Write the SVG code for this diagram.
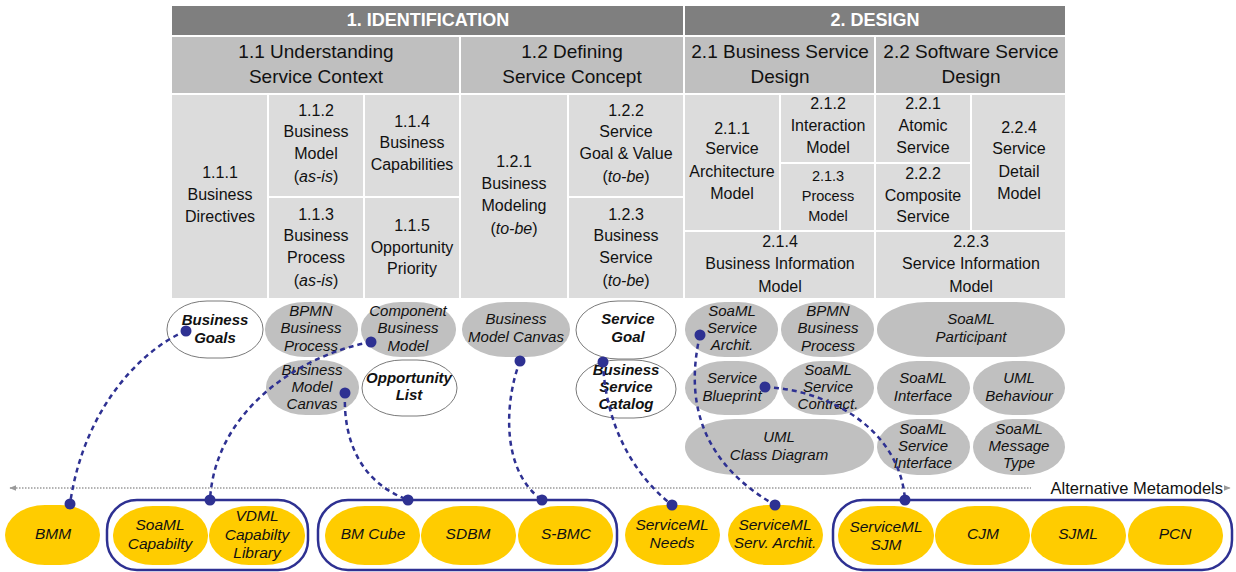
<svg xmlns="http://www.w3.org/2000/svg" width="1236" height="572" viewBox="0 0 1236 572">
<style>
.bg{fill:#fff}
.h1{fill:#7f7f7f}
.h2{fill:#bfbfbf}
.c{fill:#dcdcdc}
.t{font-family:"Liberation Sans",Arial,sans-serif;text-anchor:middle;fill:#111}
.th1{font-size:18px;font-weight:bold;fill:#fff}
.th2{font-size:19px}
.tc{font-size:16px}
.ts{font-size:14.5px}
.pi{font-size:15px;font-style:italic}
.pb{font-size:15px;font-style:italic;font-weight:bold}
.bi{font-size:15.5px;font-style:italic}
.pg{fill:#c0c0c0}
.pw{fill:#fff;stroke:#7a7a7a;stroke-width:1}
.py{fill:#ffcc00}
.grp{fill:none;stroke:#2e3192;stroke-width:2.5}
.con{fill:none;stroke:#2e3192;stroke-width:2.5;stroke-dasharray:5 4}
.dot{fill:#2e3192}
.axis{stroke:#9a9a9a;stroke-width:1.3;stroke-dasharray:1.5 1.5;fill:none}
</style>
<defs>
<marker id="ah" viewBox="0 0 10 10" refX="9" refY="5" markerWidth="7" markerHeight="7" orient="auto-start-reverse" markerUnits="userSpaceOnUse">
<path d="M0,1 L10,5 L0,9 z" fill="#9a9a9a"/>
</marker>
</defs>
<rect class="bg" x="0" y="0" width="1236" height="572"/>

<g id="phase-identification">
<rect class="h1" x="172" y="6" width="511" height="29"/>
<text class="t th1" x="428" y="26">1. IDENTIFICATION</text>
</g>
<g id="phase-design">
<rect class="h1" x="685" y="6" width="380" height="29"/>
<text class="t th1" x="875" y="26">2. DESIGN</text>
</g>

<g id="s1-1">
<rect class="h2" x="172" y="37" width="287" height="56"/>
<text class="t th2" x="316" y="58">1.1 Understanding</text>
<text class="t th2" x="316" y="83">Service Context</text>
</g>
<g id="s1-2">
<rect class="h2" x="461" y="37" width="222" height="56"/>
<text class="t th2" x="572" y="58">1.2 Defining</text>
<text class="t th2" x="572" y="83">Service Concept</text>
</g>
<g id="s2-1">
<rect class="h2" x="685" y="37" width="189" height="56"/>
<text class="t th2" x="780" y="58">2.1 Business Service</text>
<text class="t th2" x="780" y="83">Design</text>
</g>
<g id="s2-2">
<rect class="h2" x="876" y="37" width="189" height="56"/>
<text class="t th2" x="971" y="58">2.2 Software Service</text>
<text class="t th2" x="971" y="83">Design</text>
</g>

<g id="c1-1-1">
<rect class="c" x="172" y="95" width="95" height="203"/>
<text class="t tc" x="220" y="178">1.1.1</text>
<text class="t tc" x="220" y="200">Business</text>
<text class="t tc" x="220" y="222">Directives</text>
</g>
<g id="c1-1-2">
<rect class="c" x="269" y="95" width="94" height="101"/>
<text class="t tc" x="316" y="116">1.1.2</text>
<text class="t tc" x="316" y="137">Business</text>
<text class="t tc" x="316" y="159">Model</text>
<text class="t tc" x="316" y="182">(<tspan font-style="italic">as-is</tspan>)</text>
</g>
<g id="c1-1-3">
<rect class="c" x="269" y="198" width="94" height="100"/>
<text class="t tc" x="316" y="220">1.1.3</text>
<text class="t tc" x="316" y="241">Business</text>
<text class="t tc" x="316" y="263">Process</text>
<text class="t tc" x="316" y="286">(<tspan font-style="italic">as-is</tspan>)</text>
</g>
<g id="c1-1-4">
<rect class="c" x="365" y="95" width="94" height="101"/>
<text class="t tc" x="412" y="127">1.1.4</text>
<text class="t tc" x="412" y="148">Business</text>
<text class="t tc" x="412" y="170">Capabilities</text>
</g>
<g id="c1-1-5">
<rect class="c" x="365" y="198" width="94" height="100"/>
<text class="t tc" x="412" y="231">1.1.5</text>
<text class="t tc" x="412" y="253">Opportunity</text>
<text class="t tc" x="412" y="274">Priority</text>
</g>
<g id="c1-2-1">
<rect class="c" x="461" y="95" width="106" height="203"/>
<text class="t tc" x="514" y="167">1.2.1</text>
<text class="t tc" x="514" y="189">Business</text>
<text class="t tc" x="514" y="211">Modeling</text>
<text class="t tc" x="514" y="234">(<tspan font-style="italic">to-be</tspan>)</text>
</g>
<g id="c1-2-2">
<rect class="c" x="569" y="95" width="114" height="101"/>
<text class="t tc" x="626" y="116">1.2.2</text>
<text class="t tc" x="626" y="137">Service</text>
<text class="t tc" x="626" y="159">Goal &amp; Value</text>
<text class="t tc" x="626" y="182">(<tspan font-style="italic">to-be</tspan>)</text>
</g>
<g id="c1-2-3">
<rect class="c" x="569" y="198" width="114" height="100"/>
<text class="t tc" x="626" y="220">1.2.3</text>
<text class="t tc" x="626" y="241">Business</text>
<text class="t tc" x="626" y="263">Service</text>
<text class="t tc" x="626" y="286">(<tspan font-style="italic">to-be</tspan>)</text>
</g>
<g id="c2-1-1">
<rect class="c" x="685" y="95" width="94" height="135"/>
<text class="t tc" x="732" y="134">2.1.1</text>
<text class="t tc" x="732" y="154">Service</text>
<text class="t tc" x="732" y="177">Architecture</text>
<text class="t tc" x="732" y="199">Model</text>
</g>
<g id="c2-1-2">
<rect class="c" x="781" y="95" width="93" height="67"/>
<text class="t tc" x="828" y="109">2.1.2</text>
<text class="t tc" x="828" y="131">Interaction</text>
<text class="t tc" x="828" y="153">Model</text>
</g>
<g id="c2-1-3">
<rect class="c" x="781" y="164" width="93" height="66"/>
<text class="t ts" x="828" y="181">2.1.3</text>
<text class="t ts" x="828" y="201">Process</text>
<text class="t ts" x="828" y="221">Model</text>
</g>
<g id="c2-2-1">
<rect class="c" x="876" y="95" width="94" height="67"/>
<text class="t tc" x="923" y="109">2.2.1</text>
<text class="t tc" x="923" y="131">Atomic</text>
<text class="t tc" x="923" y="153">Service</text>
</g>
<g id="c2-2-2">
<rect class="c" x="876" y="164" width="94" height="66"/>
<text class="t tc" x="923" y="179">2.2.2</text>
<text class="t tc" x="923" y="201">Composite</text>
<text class="t tc" x="923" y="222">Service</text>
</g>
<g id="c2-2-4">
<rect class="c" x="972" y="95" width="93" height="135"/>
<text class="t tc" x="1019" y="133">2.2.4</text>
<text class="t tc" x="1019" y="154">Service</text>
<text class="t tc" x="1019" y="177">Detail</text>
<text class="t tc" x="1019" y="199">Model</text>
</g>
<g id="c2-1-4">
<rect class="c" x="685" y="232" width="189" height="66"/>
<text class="t tc" x="780" y="247">2.1.4</text>
<text class="t tc" x="780" y="269">Business Information</text>
<text class="t tc" x="780" y="292">Model</text>
</g>
<g id="c2-2-3">
<rect class="c" x="876" y="232" width="189" height="66"/>
<text class="t tc" x="971" y="247">2.2.3</text>
<text class="t tc" x="971" y="269">Service Information</text>
<text class="t tc" x="971" y="292">Model</text>
</g>

<!-- artefacts -->
<g id="a-business-goals">
<rect class="pw" x="167" y="301" width="96" height="57" rx="40" ry="28"/>
<text class="t pb" x="215" y="325">Business</text>
<text class="t pb" x="215" y="343">Goals</text>
</g>
<g id="a-bpmn-1">
<rect class="pg" x="265" y="302" width="93" height="55" rx="40" ry="27"/>
<text class="t pi" x="311" y="316">BPMN</text>
<text class="t pi" x="311" y="333">Business</text>
<text class="t pi" x="311" y="351">Process</text>
</g>
<g id="a-component-business-model">
<rect class="pg" x="361" y="302" width="95" height="55" rx="40" ry="27"/>
<text class="t pi" x="408" y="316">Component</text>
<text class="t pi" x="408" y="333">Business</text>
<text class="t pi" x="408" y="351">Model</text>
</g>
<g id="a-bmc-1">
<rect class="pg" x="266" y="360" width="93" height="55" rx="40" ry="27"/>
<text class="t pi" x="312" y="375">Business</text>
<text class="t pi" x="312" y="392">Model</text>
<text class="t pi" x="312" y="409">Canvas</text>
</g>
<g id="a-opportunity-list">
<rect class="pw" x="362" y="360" width="95" height="56" rx="40" ry="28"/>
<text class="t pb" x="409" y="383">Opportunity</text>
<text class="t pb" x="409" y="400">List</text>
</g>
<g id="a-bmc-2">
<rect class="pg" x="462" y="302" width="108" height="55" rx="44" ry="27"/>
<text class="t pi" x="516" y="324">Business</text>
<text class="t pi" x="516" y="342">Model Canvas</text>
</g>
<g id="a-service-goal">
<rect class="pw" x="576" y="301" width="100" height="58" rx="42" ry="29"/>
<text class="t pb" x="628" y="324">Service</text>
<text class="t pb" x="628" y="342">Goal</text>
</g>
<g id="a-business-service-catalog">
<rect class="pw" x="576" y="360" width="100" height="58" rx="42" ry="29"/>
<text class="t pb" x="626" y="375">Business</text>
<text class="t pb" x="626" y="392">Service</text>
<text class="t pb" x="626" y="409">Catalog</text>
</g>
<g id="a-soaml-service-archit">
<rect class="pg" x="685" y="302" width="93" height="55" rx="40" ry="27"/>
<text class="t pi" x="732" y="316">SoaML</text>
<text class="t pi" x="732" y="333">Service</text>
<text class="t pi" x="732" y="350">Archit.</text>
</g>
<g id="a-bpmn-2">
<rect class="pg" x="781" y="302" width="93" height="55" rx="40" ry="27"/>
<text class="t pi" x="828" y="316">BPMN</text>
<text class="t pi" x="828" y="333">Business</text>
<text class="t pi" x="828" y="351">Process</text>
</g>
<g id="a-soaml-participant">
<rect class="pg" x="877" y="302" width="188" height="55" rx="50" ry="27"/>
<text class="t pi" x="971" y="324">SoaML</text>
<text class="t pi" x="971" y="342">Participant</text>
</g>
<g id="a-service-blueprint">
<rect class="pg" x="685" y="361" width="93" height="54" rx="40" ry="27"/>
<text class="t pi" x="732" y="383">Service</text>
<text class="t pi" x="732" y="401">Blueprint</text>
</g>
<g id="a-soaml-service-contract">
<rect class="pg" x="781" y="361" width="93" height="54" rx="40" ry="27"/>
<text class="t pi" x="828" y="375">SoaML</text>
<text class="t pi" x="828" y="392">Service</text>
<text class="t pi" x="828" y="409">Contract.</text>
</g>
<g id="a-soaml-interface">
<rect class="pg" x="877" y="361" width="93" height="54" rx="40" ry="27"/>
<text class="t pi" x="923" y="383">SoaML</text>
<text class="t pi" x="923" y="401">Interface</text>
</g>
<g id="a-uml-behaviour">
<rect class="pg" x="973" y="361" width="92" height="54" rx="40" ry="27"/>
<text class="t pi" x="1019" y="383">UML</text>
<text class="t pi" x="1019" y="401">Behaviour</text>
</g>
<g id="a-uml-class-diagram">
<rect class="pg" x="685" y="419" width="189" height="56" rx="50" ry="28"/>
<text class="t pi" x="779" y="442">UML</text>
<text class="t pi" x="779" y="460">Class Diagram</text>
</g>
<g id="a-soaml-service-interface">
<rect class="pg" x="877" y="419" width="93" height="56" rx="40" ry="28"/>
<text class="t pi" x="923" y="434">SoaML</text>
<text class="t pi" x="923" y="451">Service</text>
<text class="t pi" x="923" y="468">Interface</text>
</g>
<g id="a-soaml-message-type">
<rect class="pg" x="973" y="419" width="92" height="56" rx="40" ry="28"/>
<text class="t pi" x="1019" y="434">SoaML</text>
<text class="t pi" x="1019" y="451">Message</text>
<text class="t pi" x="1019" y="468">Type</text>
</g>

<!-- axis -->
<g id="axis">
<line class="axis" x1="10" y1="488" x2="1230" y2="488" marker-start="url(#ah)" marker-end="url(#ah)"/>
<rect x="1031" y="478" width="193" height="20" fill="#fff"/>
<text class="t" x="1223" y="494" style="font-size:16.5px;text-anchor:end">Alternative Metamodels</text>
</g>

<!-- alternative metamodels -->
<g id="m-bmm">
<rect class="py" x="5" y="505" width="95" height="60" rx="40" ry="30"/>
<text class="t bi" x="53" y="539">BMM</text>
</g>
<g id="grp-1">
<rect class="grp" x="107" y="500" width="201" height="70" rx="30" ry="30"/>
</g>
<g id="m-soaml-capabilty">
<rect class="py" x="113" y="506" width="95" height="59" rx="40" ry="29"/>
<text class="t bi" x="160" y="530">SoaML</text>
<text class="t bi" x="160" y="549">Capabilty</text>
</g>
<g id="m-vdml">
<rect class="py" x="209" y="506" width="96" height="59" rx="40" ry="29"/>
<text class="t bi" x="257" y="521">VDML</text>
<text class="t bi" x="257" y="540">Capabilty</text>
<text class="t bi" x="257" y="558">Library</text>
</g>
<g id="grp-2">
<rect class="grp" x="318" y="500" width="299" height="70" rx="30" ry="30"/>
</g>
<g id="m-bm-cube">
<rect class="py" x="325" y="506" width="95" height="59" rx="40" ry="29"/>
<text class="t bi" x="373" y="539">BM Cube</text>
</g>
<g id="m-sdbm">
<rect class="py" x="421" y="506" width="95" height="59" rx="40" ry="29"/>
<text class="t bi" x="468" y="539">SDBM</text>
</g>
<g id="m-s-bmc">
<rect class="py" x="518" y="506" width="95" height="59" rx="40" ry="29"/>
<text class="t bi" x="566" y="539">S-BMC</text>
</g>
<g id="m-serviceml-needs">
<rect class="py" x="625" y="505" width="95" height="60" rx="40" ry="30"/>
<text class="t bi" x="672" y="530">ServiceML</text>
<text class="t bi" x="672" y="548">Needs</text>
</g>
<g id="m-serviceml-serv-archit">
<rect class="py" x="728" y="505" width="95" height="60" rx="40" ry="30"/>
<text class="t bi" x="775" y="530">ServiceML</text>
<text class="t bi" x="775" y="548">Serv. Archit.</text>
</g>
<g id="grp-3">
<rect class="grp" x="833" y="500" width="399" height="70" rx="30" ry="30"/>
</g>
<g id="m-serviceml-sjm">
<rect class="py" x="838" y="506" width="96" height="59" rx="40" ry="29"/>
<text class="t bi" x="886" y="532">ServiceML</text>
<text class="t bi" x="886" y="550">SJM</text>
</g>
<g id="m-cjm">
<rect class="py" x="935" y="506" width="95" height="59" rx="40" ry="29"/>
<text class="t bi" x="983" y="539">CJM</text>
</g>
<g id="m-sjml">
<rect class="py" x="1031" y="506" width="95" height="59" rx="40" ry="29"/>
<text class="t bi" x="1078" y="539">SJML</text>
</g>
<g id="m-pcn">
<rect class="py" x="1128" y="506" width="95" height="59" rx="40" ry="29"/>
<text class="t bi" x="1175" y="539">PCN</text>
</g>

<!-- connectors -->
<g id="connectors">
<path class="con" d="M186,331 C150,345 85,400 70,504"/>
<path class="con" d="M371,342 C300,355 215,410 210,500"/>
<path class="con" d="M345,393 C343,440 360,482 408,500"/>
<path class="con" d="M520,361 C505,400 500,470 542,500"/>
<path class="con" d="M603,362 C605,420 630,472 672,505"/>
<path class="con" d="M700,335 C685,400 700,462 775,505"/>
<path class="con" d="M765,387 C830,390 900,430 905,500"/>
<circle class="dot" cx="186" cy="331" r="5.5"/>
<circle class="dot" cx="70" cy="504" r="5.5"/>
<circle class="dot" cx="371" cy="342" r="5.5"/>
<circle class="dot" cx="210" cy="500" r="5.5"/>
<circle class="dot" cx="345" cy="393" r="5.5"/>
<circle class="dot" cx="408" cy="500" r="5.5"/>
<circle class="dot" cx="520" cy="361" r="5.5"/>
<circle class="dot" cx="542" cy="500" r="5.5"/>
<circle class="dot" cx="603" cy="362" r="5.5"/>
<circle class="dot" cx="672" cy="505" r="5.5"/>
<circle class="dot" cx="700" cy="335" r="5.5"/>
<circle class="dot" cx="775" cy="505" r="5.5"/>
<circle class="dot" cx="765" cy="387" r="5.5"/>
<circle class="dot" cx="905" cy="500" r="5.5"/>
</g>
</svg>
